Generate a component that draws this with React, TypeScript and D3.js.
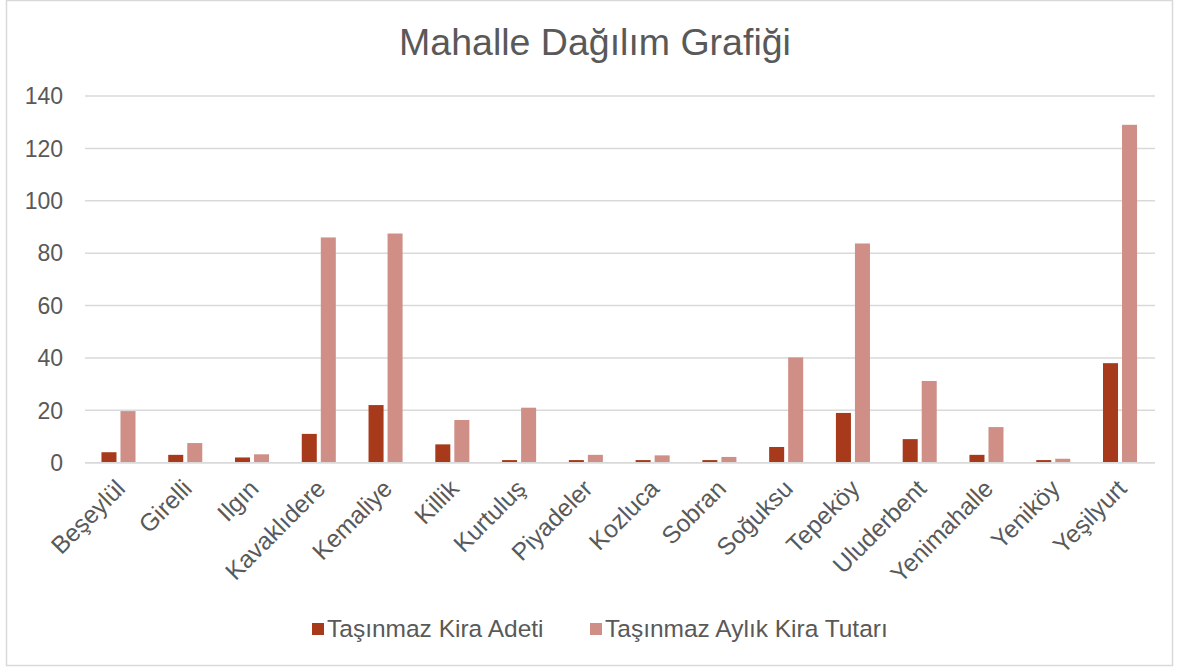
import React from "react";
import * as d3 from "d3";

const categories = ["Beşeylül","Girelli","Ilgın","Kavaklıdere","Kemaliye","Killik","Kurtuluş","Piyadeler","Kozluca","Sobran","Soğuksu","Tepeköy","Uluderbent","Yenimahalle","Yeniköy","Yeşilyurt"];
const kiraAdeti = [4,3,2,11,22,7,1,1,1,1,6,19,9,3,1,38];
const aylikKiraTutari = [19.7,7.5,3.2,86,87.5,16.3,21,3,2.8,2.2,40.2,83.7,31.2,13.6,1.5,129];
const yTicks = [0,20,40,60,80,100,120,140];
const seriesNames = ["Taşınmaz Kira Adeti","Taşınmaz Aylık Kira Tutarı"];
const colors = ["#A73A1A","#CF8F87"];

const W = 1179, H = 668;
const FONT = "'Liberation Sans', Arial, sans-serif";
const TXT = "#595959";

export default function App() {
  const x = d3.scaleBand<string>().domain(categories).range([85.1, 1153.4]).padding(0);
  const y = d3.scaleLinear().domain([0, 140]).range([462.7, 96]);
  const bw = x.bandwidth() * 0.225;
  const gap = 2;
  return (
    <svg width={W} height={H} style={{ position: "absolute", left: 0, top: 0 }} fontFamily={FONT}>
      <rect x={0} y={0} width={W} height={H} fill="#fff" />
      <rect x={6.5} y={0.5} width={1166} height={665} fill="none" stroke="#d9d9d9" strokeWidth={1.5} />
      <text x={595} y={55} textAnchor="middle" fontSize={37.5} fill={TXT}>Mahalle Dağılım Grafiği</text>
      {yTicks.map((t) => (
        <g key={t}>
          <line x1={85} x2={1155} y1={y(t)} y2={y(t)} stroke="#d9d9d9" strokeWidth={1.5} />
          <text x={63} y={y(t)} dy="0.36em" textAnchor="end" fontSize={23} fill={TXT}>{t}</text>
        </g>
      ))}
      {categories.map((c, i) => {
        const cx = (x(c) as number) + x.bandwidth() / 2;
        return (
          <g key={c}>
            <rect x={cx - gap - bw} y={y(kiraAdeti[i])} width={bw} height={y(0) - y(kiraAdeti[i])} fill={colors[0]} />
            <rect x={cx + gap} y={y(aylikKiraTutari[i])} width={bw} height={y(0) - y(aylikKiraTutari[i])} fill={colors[1]} />
            <text transform={`translate(${cx - 4},${478}) rotate(-45)`} textAnchor="end" dy="0.7em" fontSize={24.5} fill={TXT}>{c}</text>
          </g>
        );
      })}
      <line x1={85} x2={1155} y1={y(0)} y2={y(0)} stroke="#d9d9d9" strokeWidth={1.5} />
      {seriesNames.map((s, i) => {
        const lx = i === 0 ? 312 : 590;
        return (
          <g key={s}>
            <rect x={lx} y={623} width={12} height={12} fill={colors[i]} />
            <text x={lx + 15} y={637} fontSize={24.5} fill={TXT}>{s}</text>
          </g>
        );
      })}
    </svg>
  );
}
